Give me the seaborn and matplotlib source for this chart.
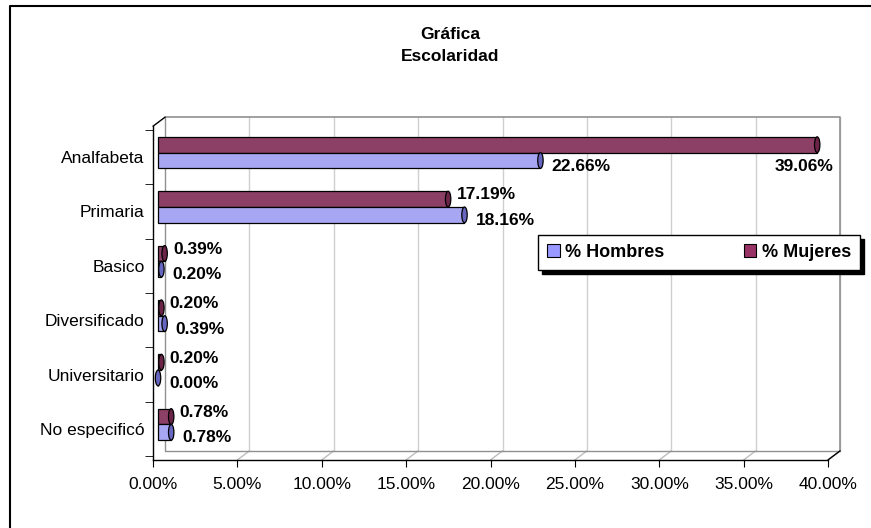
import matplotlib
matplotlib.use("Agg")
import matplotlib.pyplot as plt
import matplotlib.patches as mpatches
from matplotlib.lines import Line2D
from matplotlib.transforms import ScaledTranslation
import seaborn as sns
import pandas as pd

# datos
categorias = ["Analfabeta", "Primaria", "Basico", "Diversificado", "Universitario", "No especificó"]
hombres = [22.66, 18.16, 0.20, 0.39, 0.00, 0.78]
mujeres = [39.06, 17.19, 0.39, 0.20, 0.20, 0.78]
xticks = [0, 5, 10, 15, 20, 25, 30, 35, 40]

col_h = "#9999FF"
col_m = "#993366"
cap_h = "#6666c0"
cap_m = "#6b2347"

df = pd.DataFrame({
    "Escolaridad": categorias * 2,
    "Serie": ["% Mujeres"] * len(categorias) + ["% Hombres"] * len(categorias),
    "Valor": mujeres + hombres,
})

sns.set_style("white")
plt.rcParams["font.family"] = ["Liberation Sans", "DejaVu Sans"]
plt.rcParams.update({"text.color": "black", "axes.labelcolor": "black",
                     "xtick.color": "black", "ytick.color": "black"})

fig = plt.figure(figsize=(8.71, 5.28), dpi=100)
ax = fig.add_axes([0.1757, 0.129, 0.775, 0.632])

sns.barplot(data=df, y="Escolaridad", x="Valor", hue="Serie",
            hue_order=["% Mujeres", "% Hombres"], order=categorias,
            palette={"% Mujeres": col_m, "% Hombres": col_h},
            width=0.58, edgecolor="black", linewidth=0.9, ax=ax, legend=False)

ax.set_xlim(0, 40)
ax.set_xticks(xticks)
ax.set_xticklabels([f"{v:.2f}%" for v in xticks], fontsize=12.5)
ax.set_xlabel("")
ax.set_ylabel("")
ax.tick_params(axis="y", length=0, labelsize=12.5, pad=6)
ax.tick_params(axis="x", length=5, direction="out", bottom=True, pad=7)
ax.set_yticks([i + 0.5 for i in range(-1, len(categorias))], minor=True)
ax.tick_params(axis="y", which="minor", length=6, direction="out", left=True)
ax.grid(False)
ax.spines["top"].set_visible(False)
ax.spines["right"].set_visible(False)
for s in ["left", "bottom"]:
    ax.spines[s].set_color("black")
    ax.spines[s].set_linewidth(1.0)

# pared del fondo (efecto 3D)
dx = 12 / (0.775 * 871)
dy = 9 / (0.632 * 528)
for t in xticks[1:]:
    f = t / 40
    ax.plot([f + dx, f + dx], [dy, 1 + dy], transform=ax.transAxes, color="#cfcfcf",
            linewidth=1.0, clip_on=False, zorder=0)
    ax.plot([f, f + dx], [0, dy], transform=ax.transAxes, color="#bdbdbd",
            linewidth=1.0, clip_on=False, zorder=0)
ax.plot([dx, 1 + dx, 1 + dx], [1 + dy, 1 + dy, dy], transform=ax.transAxes,
        color="#909090", linewidth=1.2, clip_on=False, zorder=0)
ax.plot([dx, dx, 1 + dx], [1 + dy, dy, dy], transform=ax.transAxes,
        color="#909090", linewidth=1.0, clip_on=False, zorder=0)
ax.plot([0, dx], [1, 1 + dy], transform=ax.transAxes, color="black",
        linewidth=1.0, clip_on=False)
ax.plot([1, 1 + dx], [0, dy], transform=ax.transAxes, color="black",
        linewidth=1.0, clip_on=False)

# barras desplazadas a media profundidad + tapa cilindrica
bar_off = ScaledTranslation(0.05, 0.045, fig.dpi_scale_trans)
n = len(categorias)
barras = list(ax.patches[:2 * n])
for i, p in enumerate(barras):
    p.set_transform(ax.transData + bar_off)
    p.set_clip_on(False)
    w = p.get_width()
    h = p.get_height()
    yc = p.get_y() + h / 2
    tapa = mpatches.Ellipse((w, yc), 0.32, h, facecolor=cap_m if i < n else cap_h,
                            edgecolor="black", linewidth=0.9,
                            transform=ax.transData + bar_off, clip_on=False, zorder=3)
    ax.add_patch(tapa)

# etiquetas de valores
for i, p in enumerate(barras):
    w = p.get_width()
    yc = p.get_y() + p.get_height() / 2
    es_mujer = i < n
    if es_mujer and w > 30:
        off, ha = (12, -16), "right"
    elif es_mujer:
        off, ha = (6, 3), "left"
    else:
        off, ha = (8, -4), "left"
    ax.annotate(f"{w:.2f}%", xy=(w, yc), xycoords=ax.transData + bar_off,
                xytext=off, textcoords="offset points", ha=ha, va="center",
                fontsize=12.5, fontweight="bold", annotation_clip=False)

# leyenda
handles = [mpatches.Patch(facecolor=col_h, edgecolor="black", linewidth=0.8, label="% Hombres"),
           mpatches.Patch(facecolor=col_m, edgecolor="black", linewidth=0.8, label="% Mujeres")]
leg = fig.legend(handles=handles, loc="center", ncol=2, mode="expand",
                 bbox_to_anchor=(538 / 871, 1 - 270 / 528, 322 / 871, 35 / 528),
                 frameon=True, fancybox=False, shadow={"color": "black", "alpha": 1, "ox": 3, "oy": -3},
                 handlelength=0.7, handleheight=0.7, handletextpad=0.3, columnspacing=2.0,
                 borderpad=0.5, borderaxespad=0, prop={"weight": "bold", "size": 13})
leg.get_frame().set_edgecolor("black")
leg.get_frame().set_linewidth(1.0)

fig.text(0.517, 0.914, "Gráfica\nEscolaridad", ha="center", va="center",
         fontsize=12.5, fontweight="bold", linespacing=1.55)

# borde exterior (solo arriba e izquierda, recortado)
fig.add_artist(Line2D([10 / 871, 10 / 871, 1], [0, 1 - 6 / 528, 1 - 6 / 528],
                      transform=fig.transFigure, color="black", linewidth=1.5))

fig.savefig("out.png", dpi=100)
